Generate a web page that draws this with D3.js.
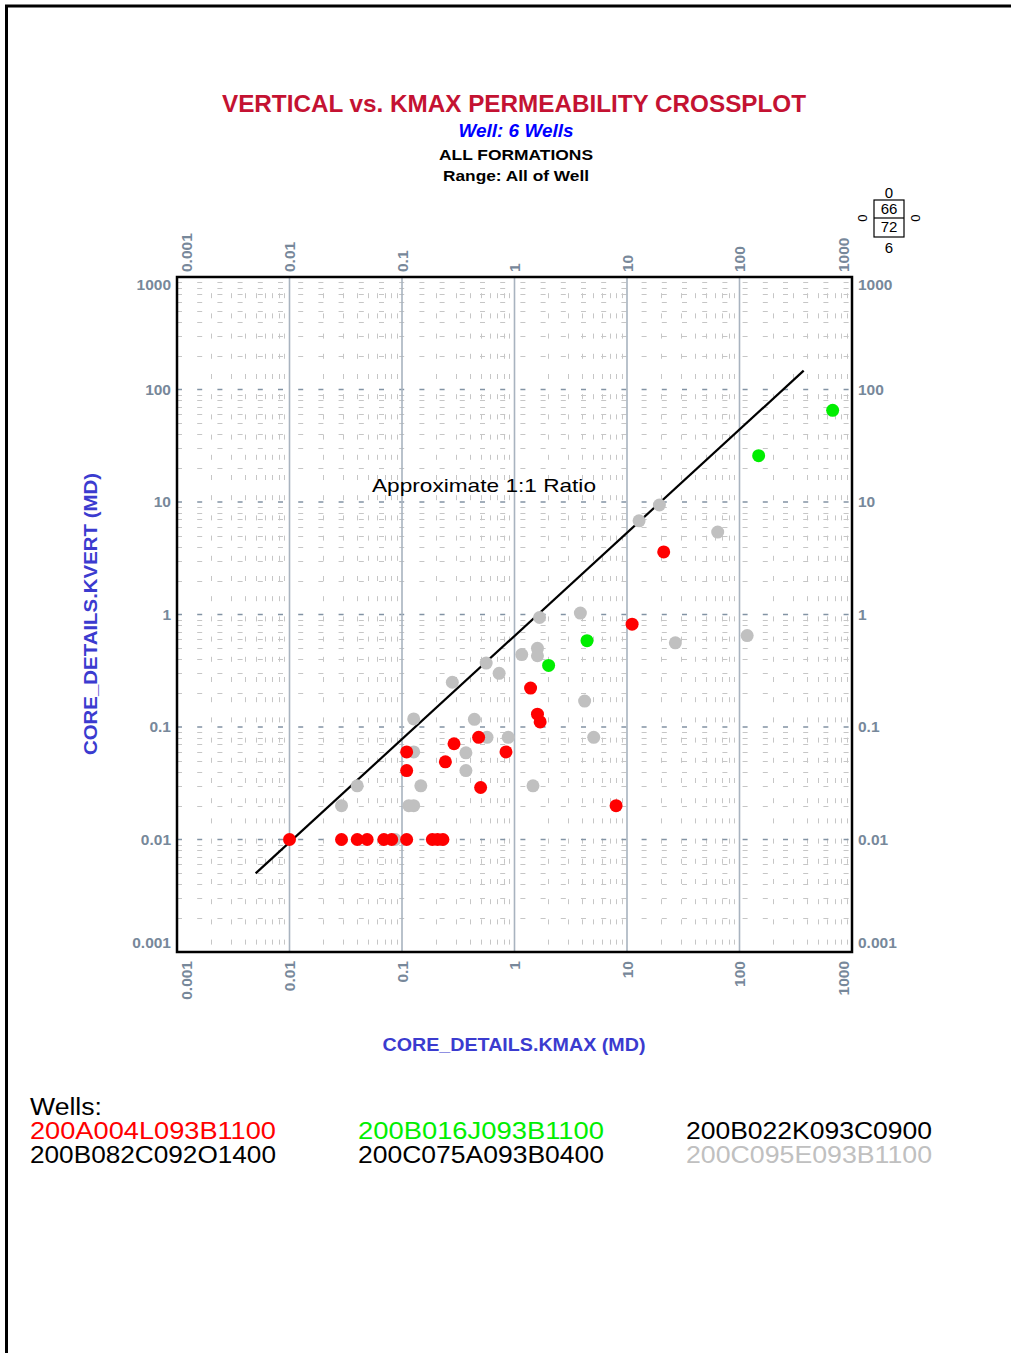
<!DOCTYPE html>
<html>
<head>
<meta charset="utf-8">
<script src="https://d3js.org/d3.v7.min.js"></script>
<style>
  html, body { margin: 0; padding: 0; background: #fff; }
  svg { display: block; font-family: "Liberation Sans", Arial, sans-serif; }
</style>
</head>
<body>
<svg id="chart" width="1011" height="1353"></svg>
<script>
// ---------- DATA ----------
const decadeTicks = [0.001, 0.01, 0.1, 1, 10, 100, 1000];
const tickLabels = ["0.001", "0.01", "0.1", "1", "10", "100", "1000"];

const wellNames = ["200A004L093B1100", "200B016J093B1100", "200B022K093C0900",
                   "200B082C092O1400", "200C075A093B0400", "200C095E093B1100"];
const wellColors = ["#ff0000", "#00ee00", "#000000", "#000000", "#000000", "#c0c0c0"];

// well 200A004L093B1100 (red): [kmax, kvert]
const wellRed = [
  [0.01, 0.01], [0.029, 0.01], [0.04, 0.01], [0.049, 0.01], [0.069, 0.01],
  [0.081, 0.01], [0.11, 0.01], [0.186, 0.01], [0.207, 0.01], [0.231, 0.01],
  [0.11, 0.06], [0.11, 0.041], [0.243, 0.049], [0.29, 0.071], [0.48, 0.081],
  [0.84, 0.06], [0.5, 0.029], [1.6, 0.13], [1.69, 0.111], [1.39, 0.222],
  [11.1, 0.82], [21.2, 3.6], [8.0, 0.02]
];
// well 200B016J093B1100 (green)
const wellGreen = [[673, 65.3], [148, 25.8], [4.41, 0.585], [2.01, 0.353]];
// well 200C095E093B1100 (grey)
const wellGrey = [
  [12.8, 6.8], [19.4, 9.4], [64, 5.4], [26.9, 0.56], [117, 0.65],
  [3.85, 1.03], [1.67, 0.94], [1.16, 0.44], [1.6, 0.5], [1.6, 0.43],
  [0.56, 0.37], [0.73, 0.3], [0.28, 0.25], [4.2, 0.17], [5.06, 0.081],
  [0.44, 0.117], [0.57, 0.081], [0.88, 0.081], [0.37, 0.059], [0.37, 0.041],
  [1.46, 0.03], [0.127, 0.118], [0.127, 0.06], [0.04, 0.03], [0.029, 0.02],
  [0.147, 0.03], [0.115, 0.02], [0.127, 0.02], [0.087, 0.01]
];
// approximate 1:1 line end points
const ratioLine = [[0.005, 0.005], [372, 147]];

// summary box counts
const boxTop = "0", boxUpper = "66", boxLower = "72", boxBottom = "6", boxLeft = "0", boxRight = "0";

// ---------- LAYOUT ----------
const svg = d3.select("#chart");
const L = 177, R = 852, T = 277, B = 952;
const x = d3.scaleLog().domain([0.001, 1000]).range([L, R]);
const y = d3.scaleLog().domain([0.001, 1000]).range([B, T]);

// page frame
svg.append("path").attr("d", "M6.5,1353 L6.5,6 L1011,6")
  .attr("fill", "none").attr("stroke", "#000").attr("stroke-width", 3);

// titles
const titles = svg.append("g").attr("text-anchor", "middle");
titles.append("text").attr("x", 514).attr("y", 112).text("VERTICAL vs. KMAX PERMEABILITY CROSSPLOT")
  .attr("font-size", 24.5).attr("font-weight", "bold").attr("fill", "#c41232")
  .attr("textLength", 584).attr("lengthAdjust", "spacingAndGlyphs");
titles.append("text").attr("x", 516).attr("y", 137).text("Well: 6 Wells")
  .attr("font-size", 19).attr("font-weight", "bold").attr("font-style", "italic").attr("fill", "#0000ff")
  .attr("textLength", 115).attr("lengthAdjust", "spacingAndGlyphs");
titles.append("text").attr("x", 516).attr("y", 160).text("ALL FORMATIONS")
  .attr("font-size", 15.5).attr("font-weight", "bold").attr("fill", "#000")
  .attr("textLength", 154).attr("lengthAdjust", "spacingAndGlyphs");
titles.append("text").attr("x", 516).attr("y", 181).text("Range: All of Well")
  .attr("font-size", 15.5).attr("font-weight", "bold").attr("fill", "#000")
  .attr("textLength", 146).attr("lengthAdjust", "spacingAndGlyphs");

// summary box
const box = svg.append("g").attr("font-size", 15).attr("fill", "#000").attr("text-anchor", "middle");
box.append("rect").attr("x", 874).attr("y", 200).attr("width", 30).attr("height", 37)
  .attr("fill", "none").attr("stroke", "#000").attr("stroke-width", 1.2);
box.append("line").attr("x1", 874).attr("x2", 904).attr("y1", 218).attr("y2", 218)
  .attr("stroke", "#000").attr("stroke-width", 1.2);
box.append("text").attr("x", 889).attr("y", 198).text(boxTop);
box.append("text").attr("x", 889).attr("y", 214).text(boxUpper);
box.append("text").attr("x", 889).attr("y", 232).text(boxLower);
box.append("text").attr("x", 889).attr("y", 253).text(boxBottom);
box.append("text").attr("transform", "translate(858,218) rotate(90)").attr("font-size", 13).text(boxLeft);
box.append("text").attr("transform", "translate(911,218) rotate(90)").attr("font-size", 13).text(boxRight);

// ---------- GRID ----------
const grid = svg.append("g");
const minorVals = x.ticks().filter(v => decadeTicks.indexOf(v) < 0 && v > 0.001 && v < 1000);
grid.selectAll("line.vmin").data(minorVals).join("line")
  .attr("x1", d => Math.round(x(d)) + 0.5).attr("x2", d => Math.round(x(d)) + 0.5)
  .attr("y1", T).attr("y2", B)
  .attr("stroke", "#c6c6c6").attr("stroke-width", 1)
  .attr("stroke-dasharray", "5,15.2").attr("stroke-dashoffset", 4);
grid.selectAll("line.hmin").data(minorVals).join("line")
  .attr("y1", d => Math.round(y(d)) + 0.5).attr("y2", d => Math.round(y(d)) + 0.5)
  .attr("x1", L).attr("x2", R)
  .attr("stroke", "#c6c6c6").attr("stroke-width", 1)
  .attr("stroke-dasharray", "5,15.2");
const innerDec = decadeTicks.slice(1, -1);
grid.selectAll("line.hmaj").data(innerDec).join("line")
  .attr("y1", d => y(d)).attr("y2", d => y(d))
  .attr("x1", L).attr("x2", R)
  .attr("stroke", "#8293a4").attr("stroke-width", 1.4)
  .attr("stroke-dasharray", "5,15.2");
grid.selectAll("line.vmaj").data(innerDec).join("line")
  .attr("x1", d => x(d)).attr("x2", d => x(d))
  .attr("y1", T).attr("y2", B)
  .attr("stroke", "#a8b3bf").attr("stroke-width", 1.6);

// ---------- AXES ----------
const fmt = d => tickLabels[decadeTicks.indexOf(d)];
function styleAxis(g) {
  g.select(".domain").remove();
  g.selectAll("text").attr("font-size", 15.5).attr("font-weight", "bold")
    .attr("fill", "#77889a").attr("font-family", "'Liberation Sans', Arial, sans-serif");
}
const leftAx = svg.append("g").attr("transform", `translate(${L},0)`)
  .call(d3.axisLeft(y).tickValues(decadeTicks).tickFormat(fmt).tickSize(0).tickPadding(6));
styleAxis(leftAx);
const rightAx = svg.append("g").attr("transform", `translate(${R},0)`)
  .call(d3.axisRight(y).tickValues(decadeTicks).tickFormat(fmt).tickSize(0).tickPadding(6));
styleAxis(rightAx);
[leftAx, rightAx].forEach(g => {
  g.selectAll("text").attr("y", d => d === 1000 ? 8 : (d === 0.001 ? -9 : 0));
});

const topAx = svg.append("g").attr("transform", `translate(0,${T})`)
  .call(d3.axisTop(x).tickValues(decadeTicks).tickFormat(fmt).tickSize(0));
styleAxis(topAx);
topAx.selectAll("text").attr("transform", "rotate(-90)").attr("x", 5)
  .attr("y", d => d === 0.001 ? 9 : (d === 1000 ? -9 : 0))
  .attr("dy", "0.35em").attr("text-anchor", "start");

const botAx = svg.append("g").attr("transform", `translate(0,${B})`)
  .call(d3.axisBottom(x).tickValues(decadeTicks).tickFormat(fmt).tickSize(0));
styleAxis(botAx);
botAx.selectAll("text").attr("transform", "rotate(-90)").attr("x", -9)
  .attr("y", d => d === 0.001 ? 9 : (d === 1000 ? -9 : 0))
  .attr("dy", "0.35em").attr("text-anchor", "end");

// axis titles
svg.append("text").attr("x", 514).attr("y", 1051).attr("text-anchor", "middle")
  .attr("font-size", 18).attr("font-weight", "bold").attr("fill", "#3b3bcf")
  .attr("textLength", 263).attr("lengthAdjust", "spacingAndGlyphs")
  .text("CORE_DETAILS.KMAX (MD)");
svg.append("text").attr("transform", "translate(97,614) rotate(-90)").attr("text-anchor", "middle")
  .attr("font-size", 18).attr("font-weight", "bold").attr("fill", "#3b3bcf")
  .attr("textLength", 282).attr("lengthAdjust", "spacingAndGlyphs")
  .text("CORE_DETAILS.KVERT (MD)");

// ---------- MARKS ----------
const line = d3.line().x(d => x(d[0])).y(d => y(d[1]));
svg.append("path").datum(ratioLine).attr("d", line)
  .attr("fill", "none").attr("stroke", "#000").attr("stroke-width", 2.2);

svg.append("text").attr("x", 372).attr("y", 492).attr("font-size", 19).attr("fill", "#000")
  .attr("textLength", 224).attr("lengthAdjust", "spacingAndGlyphs")
  .text("Approximate 1:1 Ratio");

const dotLayers = [[wellGrey, "#c0c0c0"], [wellGreen, "#00ee00"], [wellRed, "#ff0000"]];
dotLayers.forEach(([data, col]) => {
  svg.append("g").selectAll("circle").data(data).join("circle")
    .attr("cx", d => x(d[0])).attr("cy", d => y(d[1])).attr("r", 6.5).attr("fill", col);
});

// plot border
svg.append("rect").attr("x", L).attr("y", T).attr("width", R - L).attr("height", B - T)
  .attr("fill", "none").attr("stroke", "#000").attr("stroke-width", 2.5);

// ---------- LEGEND ----------
const leg = svg.append("g").attr("font-size", 23);
leg.append("text").attr("x", 30).attr("y", 1115).attr("fill", "#000")
  .attr("textLength", 72).attr("lengthAdjust", "spacingAndGlyphs").text("Wells:");
const colX = [30, 358, 686], rowY = [1139, 1163];
wellNames.forEach((n, i) => {
  leg.append("text").attr("x", colX[i % 3]).attr("y", rowY[Math.floor(i / 3)])
    .attr("fill", wellColors[i])
    .attr("textLength", 246).attr("lengthAdjust", "spacingAndGlyphs").text(n);
});
</script>
</body>
</html>
